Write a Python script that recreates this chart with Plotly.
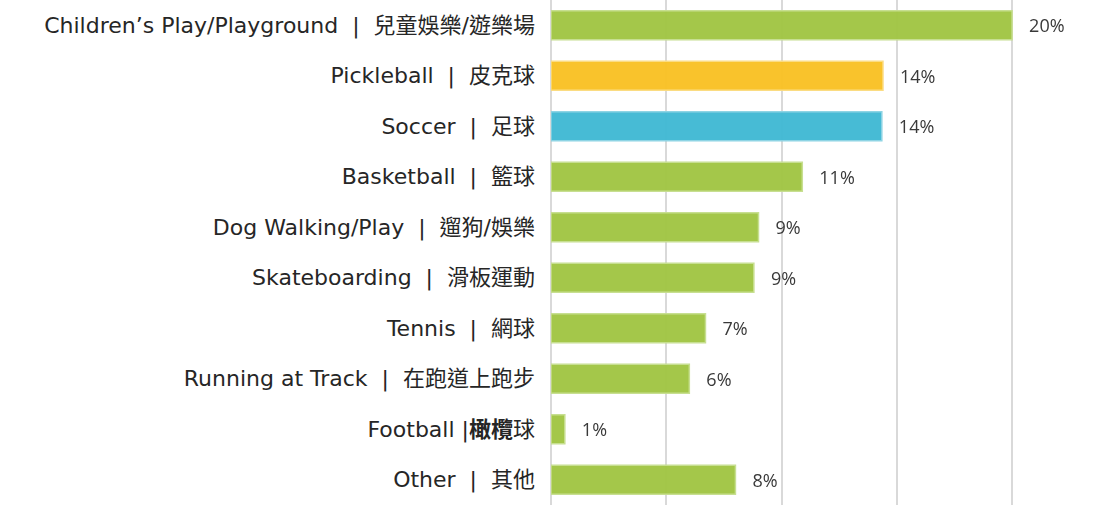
import plotly.graph_objects as go

SEP = "\u00a0\u00a0|\u00a0\u00a0"
categories = [
    "Children\u2019s Play/Playground" + SEP + "兒童娛樂/遊樂場",
    "Pickleball" + SEP + "皮克球",
    "Soccer" + SEP + "足球",
    "Basketball" + SEP + "籃球",
    "Dog Walking/Play" + SEP + "遛狗/娛樂",
    "Skateboarding" + SEP + "滑板運動",
    "Tennis" + SEP + "網球",
    "Running at Track" + SEP + "在跑道上跑步",
    "Football\u00a0|<b>橄欖</b>球",
    "Other" + SEP + "其他",
]
values = [20.0, 14.4, 14.35, 10.9, 9.0, 8.8, 6.7, 6.0, 0.6, 8.0]
colors = ["#A2C645", "#F9C226", "#42B9D4", "#A2C645", "#A2C645",
          "#A2C645", "#A2C645", "#A2C645", "#A2C645", "#A2C645"]
line_colors = ["#C6DE8E", "#FBDB7E", "#8BD3E4", "#C6DE8E", "#C6DE8E",
               "#C6DE8E", "#C6DE8E", "#C6DE8E", "#C6DE8E", "#C6DE8E"]

fig = go.Figure(go.Bar(
    x=values,
    y=categories,
    orientation="h",
    marker=dict(color=colors, line=dict(color=line_colors, width=1.5)),
    opacity=0.97,
    texttemplate="\u00a0\u00a0\u00a0%{x:.0f}%",
    textposition="outside",
    cliponaxis=False,
    textfont=dict(family="Open Sans, Noto Sans", size=18, color="#333333"),
))

fig.update_layout(
    width=1116, height=505,
    margin=dict(l=551, r=14, t=0, b=0),
    plot_bgcolor="white", paper_bgcolor="white",
    bargap=0.43,
    showlegend=False,
    xaxis=dict(range=[0, 23.9], dtick=5, showticklabels=False,
               showgrid=True, gridcolor="#D9D9D9", gridwidth=1.5,
               zeroline=True, zerolinecolor="#D9D9D9", zerolinewidth=1.5,
               fixedrange=True),
    yaxis=dict(autorange="reversed", ticklabelstandoff=15,
               tickfont=dict(family="DejaVu Sans, Noto Sans CJK TC", size=22, color="#262626"),
               showgrid=False, fixedrange=True),
)

fig.write_html("out.html", config={"displayModeBar": False},
               post_script="document.body.style.margin='0';document.body.style.padding='0';")
